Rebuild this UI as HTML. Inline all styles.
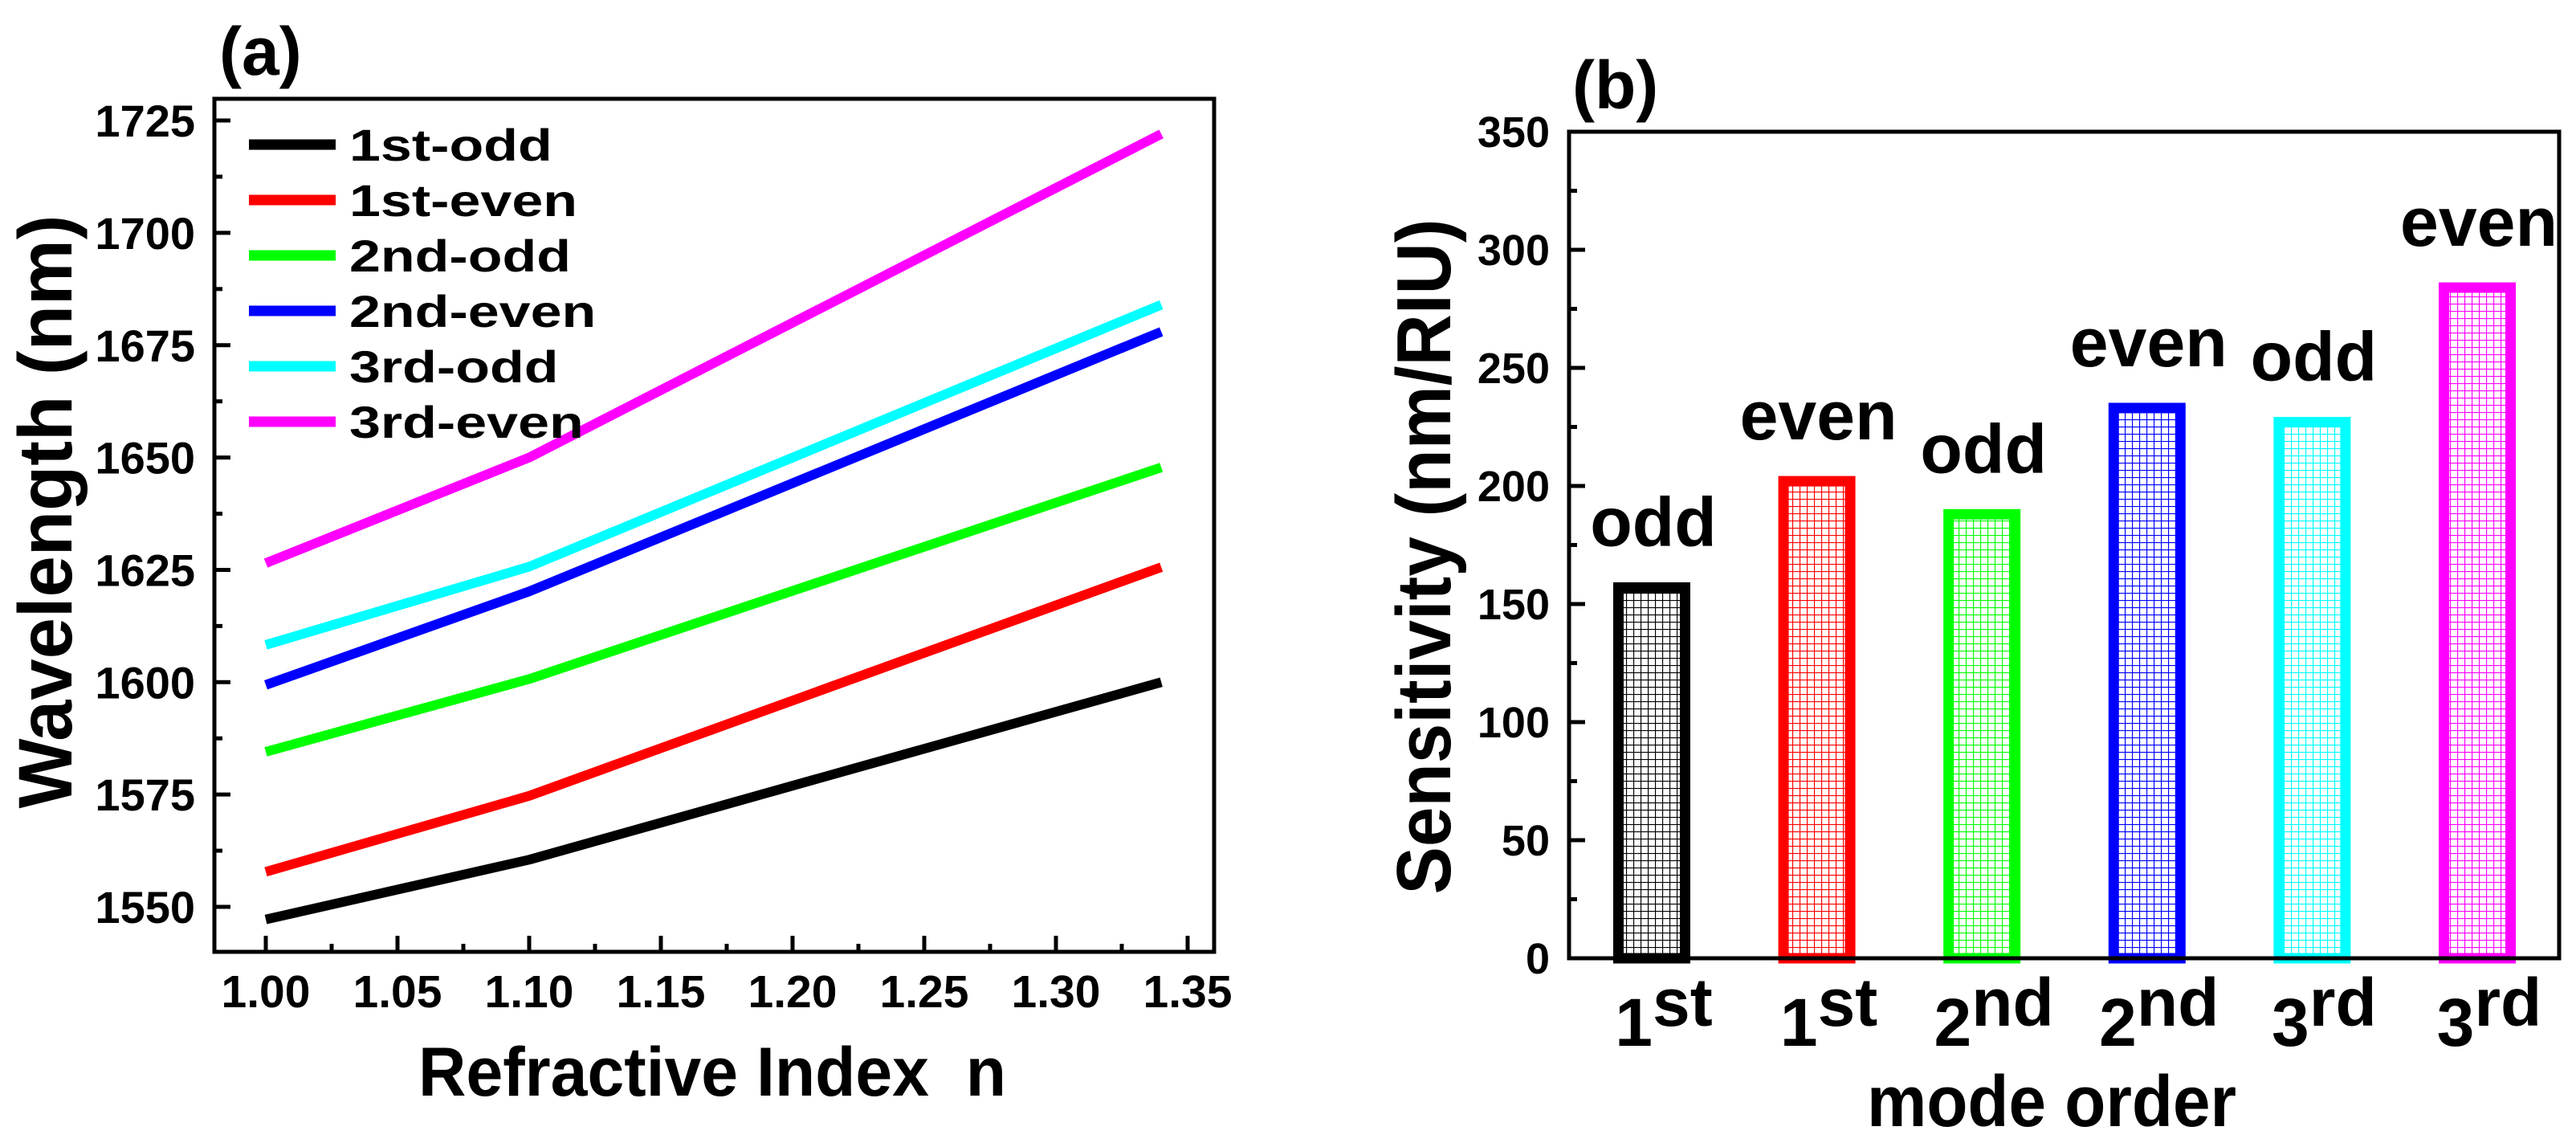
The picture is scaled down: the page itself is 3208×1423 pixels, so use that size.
<!DOCTYPE html>
<html><head><meta charset="utf-8"><style>
html,body{margin:0;padding:0;background:#fff;}
svg{display:block;font-family:"Liberation Sans",Arial,sans-serif;font-weight:bold;}
</style></head><body>
<svg id="fig" width="3208" height="1423" viewBox="0 0 3208 1423" xmlns="http://www.w3.org/2000/svg">
<defs>
<pattern id="hk" width="9" height="9" patternUnits="userSpaceOnUse"><path d="M0 0.5H9M0.5 0V9" stroke="#000" stroke-width="1.3" fill="none"/></pattern>
<pattern id="hr" width="9" height="9" patternUnits="userSpaceOnUse"><path d="M0 0.5H9M0.5 0V9" stroke="#f00" stroke-width="1.3" fill="none"/></pattern>
<pattern id="hg" width="9" height="9" patternUnits="userSpaceOnUse"><path d="M0 0.5H9M0.5 0V9" stroke="#0f0" stroke-width="1.3" fill="none"/></pattern>
<pattern id="hb" width="9" height="9" patternUnits="userSpaceOnUse"><path d="M0 0.5H9M0.5 0V9" stroke="#00f" stroke-width="1.3" fill="none"/></pattern>
<pattern id="hc" width="9" height="9" patternUnits="userSpaceOnUse"><path d="M0 0.5H9M0.5 0V9" stroke="#0ff" stroke-width="1.3" fill="none"/></pattern>
<pattern id="hm" width="9" height="9" patternUnits="userSpaceOnUse"><path d="M0 0.5H9M0.5 0V9" stroke="#f0f" stroke-width="1.3" fill="none"/></pattern>
</defs>
<g id="pa"></g>
<g id="pb"></g>
</svg>
<script>
// Panel (a) data
const nValues = [1.00, 1.10, 1.34];
const seriesNames = ["1st-odd","1st-even","2nd-odd","2nd-even","3rd-odd","3rd-even"];
const odd1 = [1547.2, 1560.5, 1600.0];
const even1 = [1557.8, 1574.7, 1625.6];
const odd2 = [1584.5, 1600.7, 1647.8];
const even2 = [1599.4, 1620.2, 1678.0];
const odd3 = [1608.3, 1625.7, 1684.0];
const even3 = [1626.5, 1650.0, 1722.0];
const aXTicks = ["1.00","1.05","1.10","1.15","1.20","1.25","1.30","1.35"];
const aYTicks = ["1550","1575","1600","1625","1650","1675","1700","1725"];
// Panel (b) data
const modeLabels = ["1","1","2","2","3","3"];
const modeSups = ["st","st","nd","nd","rd","rd"];
const parity = ["odd","even","odd","even","odd","even"];
const sensitivity = [157, 202, 188, 233, 227, 284];
const bYTicks = ["0","50","100","150","200","250","300","350"];

const NS="http://www.w3.org/2000/svg";
function mk(parent,tag,attrs,text){const e=document.createElementNS(NS,tag);for(const k in attrs)e.setAttribute(k,attrs[k]);if(text!==undefined)e.textContent=text;parent.appendChild(e);return e;}
const colors=["#000","#f00","#0f0","#00f","#0ff","#f0f"];
const pats=["hk","hr","hg","hb","hc","hm"];

// ---- Panel a
const pa=document.getElementById('pa');
const aL=267,aR=1512,aT=123,aB=1185;
const ax=v=>331+(v-1.0)*3280;
const ay=v=>1129-(v-1550)*5.594;
let e;
e=mk(pa,'text',{x:273,y:93,'font-size':84},'(a)');

e=mk(pa,'rect',{x:aL,y:aT,width:aR-aL,height:aB-aT,fill:'none',stroke:'#000','stroke-width':5});

aXTicks.forEach((t,i)=>{const v=parseFloat(t);const x=ax(v);
 mk(pa,'line',{x1:x,y1:aB,x2:x,y2:aB-20,stroke:'#000','stroke-width':5});
 if(i<aXTicks.length-1){const xm=ax(v+0.025);mk(pa,'line',{x1:xm,y1:aB,x2:xm,y2:aB-10,stroke:'#000','stroke-width':5});}
 const tx=mk(pa,'text',{x:x,y:1254,'font-size':57,'text-anchor':'middle'},t);
 });
aYTicks.forEach((t,i)=>{const v=parseFloat(t);const y=ay(v);
 mk(pa,'line',{x1:aL,y1:y,x2:aL+20,y2:y,stroke:'#000','stroke-width':5});
 const ym=ay(v+12.5);if(ym>aT)mk(pa,'line',{x1:aL,y1:ym,x2:aL+10,y2:ym,stroke:'#000','stroke-width':5});
 const ymb=ay(v-12.5);if(i==0&&ymb<aB)mk(pa,'line',{x1:aL,y1:ymb,x2:aL+10,y2:ymb,stroke:'#000','stroke-width':5});
 const tx=mk(pa,'text',{x:243,y:y+20,'font-size':56,'text-anchor':'end'},t);
 });
const allSeries=[odd1,even1,odd2,even2,odd3,even3];
allSeries.forEach((s,k)=>{
 const pts=s.map((v,i)=>ax(nValues[i]).toFixed(1)+','+ay(v).toFixed(1)).join(' ');
 const pl=mk(pa,'polyline',{points:pts,fill:'none',stroke:colors[k],'stroke-width':12,'stroke-linejoin':'round'});
 
 
 const ly=180+69*k;
 const ll=mk(pa,'line',{x1:310,y1:ly,x2:418,y2:ly,stroke:colors[k],'stroke-width':13});
 
 
 const lt=mk(pa,'text',{x:435,y:ly+20,'font-size':56},seriesNames[k]);
 
 
 const w=lt.getComputedTextLength();
 lt.setAttribute('textLength',(w*1.25).toFixed(1));
 lt.setAttribute('lengthAdjust','spacingAndGlyphs');
});
e=mk(pa,'text',{x:887,y:1364,'font-size':86,'text-anchor':'middle',textLength:732,lengthAdjust:'spacingAndGlyphs',style:'white-space:pre'},'Refractive Index  n');

e=mk(pa,'text',{x:0,y:0,'font-size':95,'text-anchor':'middle',textLength:739,lengthAdjust:'spacingAndGlyphs',transform:'translate(89,637) rotate(-90)'},'Wavelength (nm)');


// ---- Panel b
const pb=document.getElementById('pb');
const bL=1954,bR=3187,bT=164,bB=1193;
const by=v=>bB-v*(bB-bT)/350;
const bx=i=>2057+i*205.6;
e=mk(pb,'text',{x:1958,y:135,'font-size':84},'(b)');

const bw=83;
sensitivity.forEach((v,i)=>{
 const x=bx(i),top=by(v);
 const r=mk(pb,'rect',{x:x-bw/2,y:top,width:bw,height:bB-top,fill:'url(#'+pats[i]+')',stroke:colors[i],'stroke-width':13});
 
 
 const t=mk(pb,'text',{x:x+2,y:top-52,'font-size':86,'text-anchor':'middle'},parity[i]);
 
 
 const c=mk(pb,'text',{x:x+15,y:1302,'font-size':84,'text-anchor':'middle'});
 
 
 mk(c,'tspan',{},modeLabels[i]);
 mk(c,'tspan',{dy:-25,'font-size':84},modeSups[i]);
});
e=mk(pb,'rect',{x:bL,y:bT,width:bR-bL,height:bB-bT,fill:'none',stroke:'#000','stroke-width':5});

bYTicks.forEach((t,i)=>{const v=parseFloat(t);const y=by(v);
 if(i>0&&i<bYTicks.length-1)mk(pb,'line',{x1:bL,y1:y,x2:bL+20,y2:y,stroke:'#000','stroke-width':5});
 if(i<bYTicks.length-1){const ym=by(v+25);mk(pb,'line',{x1:bL,y1:ym,x2:bL+10,y2:ym,stroke:'#000','stroke-width':5});}
 const tx=mk(pb,'text',{x:1930,y:y+19,'font-size':54,'text-anchor':'end'},t);
 });
e=mk(pb,'text',{x:2555,y:1402,'font-size':90,'text-anchor':'middle',textLength:460,lengthAdjust:'spacingAndGlyphs'},'mode order');

e=mk(pb,'text',{x:0,y:0,'font-size':96,'text-anchor':'middle',textLength:841,lengthAdjust:'spacingAndGlyphs',transform:'translate(1806,693) rotate(-90)'},'Sensitivity (nm/RIU)');

</script>
</body></html>
